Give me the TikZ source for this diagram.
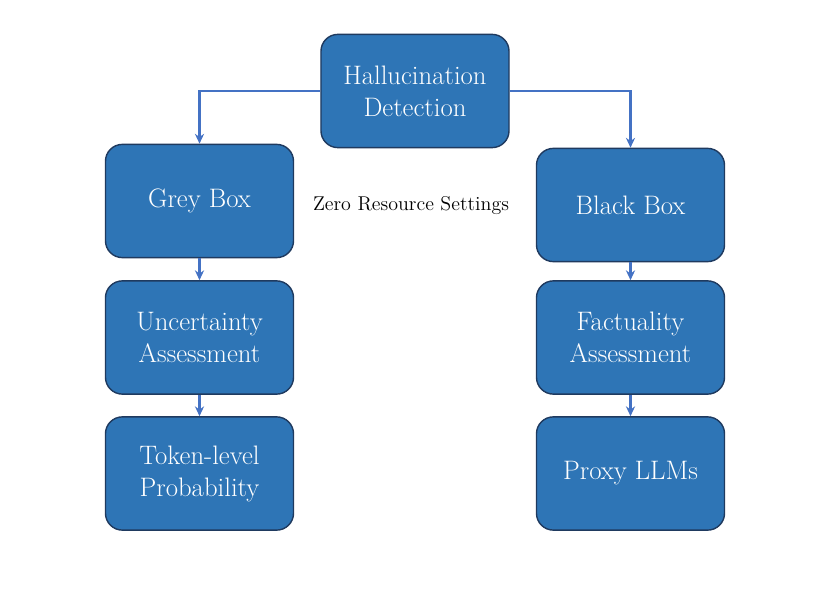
\documentclass[tikz,border=0pt]{standalone}
\usepackage{tikz}
\usetikzlibrary{arrows.meta,positioning,calc}

\definecolor{boxblue}{HTML}{2E75B6}
\definecolor{boxedge}{HTML}{1F3A5F}
\definecolor{linkblue}{HTML}{4472C4}

\begin{document}
\begin{tikzpicture}[
            x=0.025cm, y=-0.025cm,
            category/.style={
                    draw=boxedge,
                    fill=boxblue,
                    rectangle,
                    rounded corners=12pt,
                    line width=1pt,
                    minimum width=4.7cm,
                    minimum height=2.83cm,
                    align=center,
                    text=white,
                    font=\fontsize{19}{22.7}\selectfont
                },
            arrow/.style={
            -{Stealth[length=7pt,width=6.5pt]},
            color=linkblue,
            line width=1.7pt
            },
            label/.style={
                    font=\fontsize{14.2}{17}\selectfont,
                    align=center
                }
            ]
            \useasboundingbox (0,0) rectangle (830,591);

            % Nodo raíz
            \node[category] (detection) at (415,91)
            {Hallucination\\Detection};

            % Rama izquierda
            \node[category] (grey) at (199.5,201) {Grey Box};
            \node[category] (uncertainty) at (199.5,337.5)
            {Uncertainty\\Assessment};
            \node[category] (token) at (199.5,473.5)
            {Token-level\\Probability};

            % Rama derecha
            \node[category] (black) at (630.5,205) {Black Box};
            \node[category] (factuality) at (630.5,337.5)
            {Factuality\\Assessment};
            \node[category] (proxy) at (630.5,473.5) {Proxy LLMs};

            \node[label] (zero) at (411,206) {Zero Resource Settings};

            % Conexiones
            \draw[arrow] (detection.west) -| (grey.north);
            \draw[arrow] (detection.east) -| (black.north);
            \draw[arrow] (grey) -- (uncertainty);
            \draw[arrow] (uncertainty) -- (token);
            \draw[arrow] (black) -- (factuality);
            \draw[arrow] (factuality) -- (proxy);

        \end{tikzpicture}
\end{document}
